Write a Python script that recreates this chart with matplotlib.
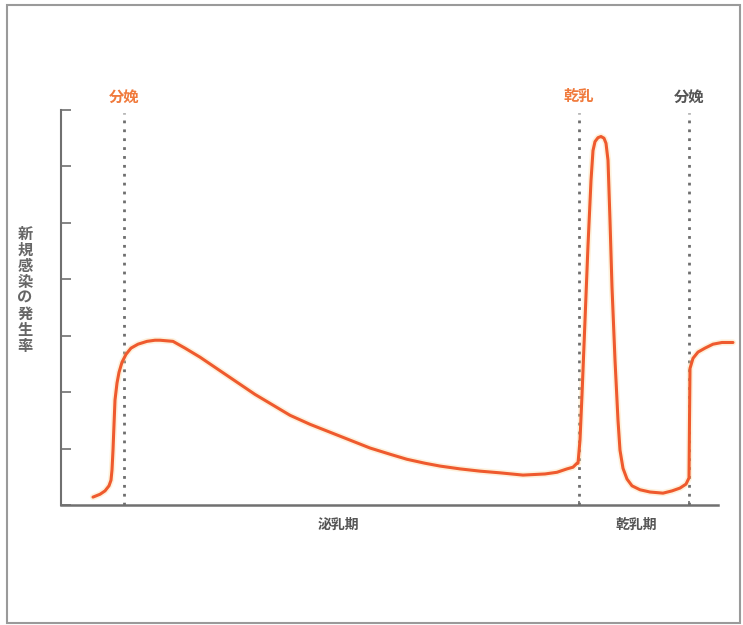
import matplotlib.pyplot as plt
from matplotlib.patches import Rectangle

plt.rcParams['font.family'] = ['Noto Sans CJK JP', 'DejaVu Sans']

# time axis (arbitrary units) and infection rate (tick units)
time = [32, 39, 44, 48, 50, 51, 52, 53, 54, 56, 58, 61, 65, 70, 77, 86, 94,
        99, 112, 124, 139, 149, 164, 179, 194, 212, 229, 249, 269, 289, 309,
        329, 346, 364, 379, 399, 419, 439, 462, 484, 496, 506, 512, 516,
        517, 519, 521, 524, 527, 530, 532, 534, 537, 540, 543, 545, 547, 549,
        551, 554, 557, 559, 562, 566, 571, 579, 589, 602, 611, 619, 625, 628,
        628.5, 629, 632, 637, 644, 652, 661, 672]
rate = [0.14, 0.19, 0.25, 0.34, 0.44, 0.62, 0.97, 1.42, 1.86, 2.16, 2.35,
        2.53, 2.67, 2.78, 2.85, 2.90, 2.92,
        2.92, 2.90, 2.78, 2.62, 2.50, 2.32, 2.14, 1.96, 1.77, 1.59, 1.43,
        1.29, 1.15, 1.01, 0.90, 0.81, 0.74, 0.69, 0.64, 0.60, 0.57, 0.53,
        0.55, 0.58, 0.64, 0.67, 0.74,
        0.74, 1.15, 1.95, 3.27, 4.60, 5.75, 6.28, 6.44, 6.51, 6.53, 6.50,
        6.41, 6.11, 5.04, 3.86, 2.57, 1.50, 0.97, 0.65, 0.46, 0.34, 0.27,
        0.23, 0.21, 0.25, 0.30, 0.37, 0.48,
        1.50, 2.42, 2.60, 2.71, 2.78, 2.85, 2.88, 2.88]

events = [63, 518, 628]
event_labels = ['分娩', '乾乳', '分娩']
event_colors = ['#f07a3c', '#f07a3c', '#555555']
period_labels = ['泌乳期', '乾乳期']
period_pos = [277, 575]
ylabel = '新規感染の発生率'

fig = plt.figure(figsize=(7.43, 6.25), dpi=100)
fig.patches.append(Rectangle((7 / 743, 2 / 625), 733 / 743, 618 / 625,
                             transform=fig.transFigure, fill=False,
                             edgecolor='#9a9a9a', linewidth=1.5))

ax = fig.add_axes([61 / 743, 120 / 625, 672 / 743, 395 / 625])
ax.set_xlim(0, 672)
ax.set_ylim(0, 7)

for x in events:
    ax.plot([x, x], [0, 6.95], color='#6e6e6e', linewidth=2,
            linestyle=(0, (1, 2.2)), zorder=1)

ax.plot(time, rate, color='#fbd79a', linewidth=4.5, alpha=0.35,
        solid_joinstyle='round', solid_capstyle='round', clip_on=False, zorder=2)
ax.plot(time, rate, color='#ef5a2e', linewidth=2.2,
        solid_joinstyle='round', solid_capstyle='round', clip_on=False, zorder=3)

for x, lab, c in zip(events, event_labels, event_colors):
    ax.text(x, 7.1, lab, color=c, fontsize=11, fontweight='bold',
            ha='center', va='bottom')

for x, lab in zip(period_pos, period_labels):
    ax.text(x, -0.23, lab, color='#555555', fontsize=10, fontweight='bold',
            ha='center', va='top')

fig.text(25 / 743, 1 - 290 / 625, '\n'.join(ylabel), color='#666666',
         fontsize=11, fontweight='bold', ha='center', va='center',
         linespacing=1.0)

for s in ['top', 'right']:
    ax.spines[s].set_visible(False)
ax.spines['left'].set_color('#707070')
ax.spines['bottom'].set_color('#707070')
ax.spines['left'].set_linewidth(1.5)
ax.spines['bottom'].set_linewidth(1.8)
ax.spines['bottom'].set_bounds(0, 657)

ax.set_yticks(range(8))
ax.set_yticklabels([])
ax.tick_params(axis='y', direction='in', length=7, width=1.2, color='#707070')
ax.set_xticks(events[1:])
ax.set_xticklabels([])
ax.tick_params(axis='x', direction='in', length=3, width=1.2, color='#707070')

fig.savefig('out.png', dpi=100)
